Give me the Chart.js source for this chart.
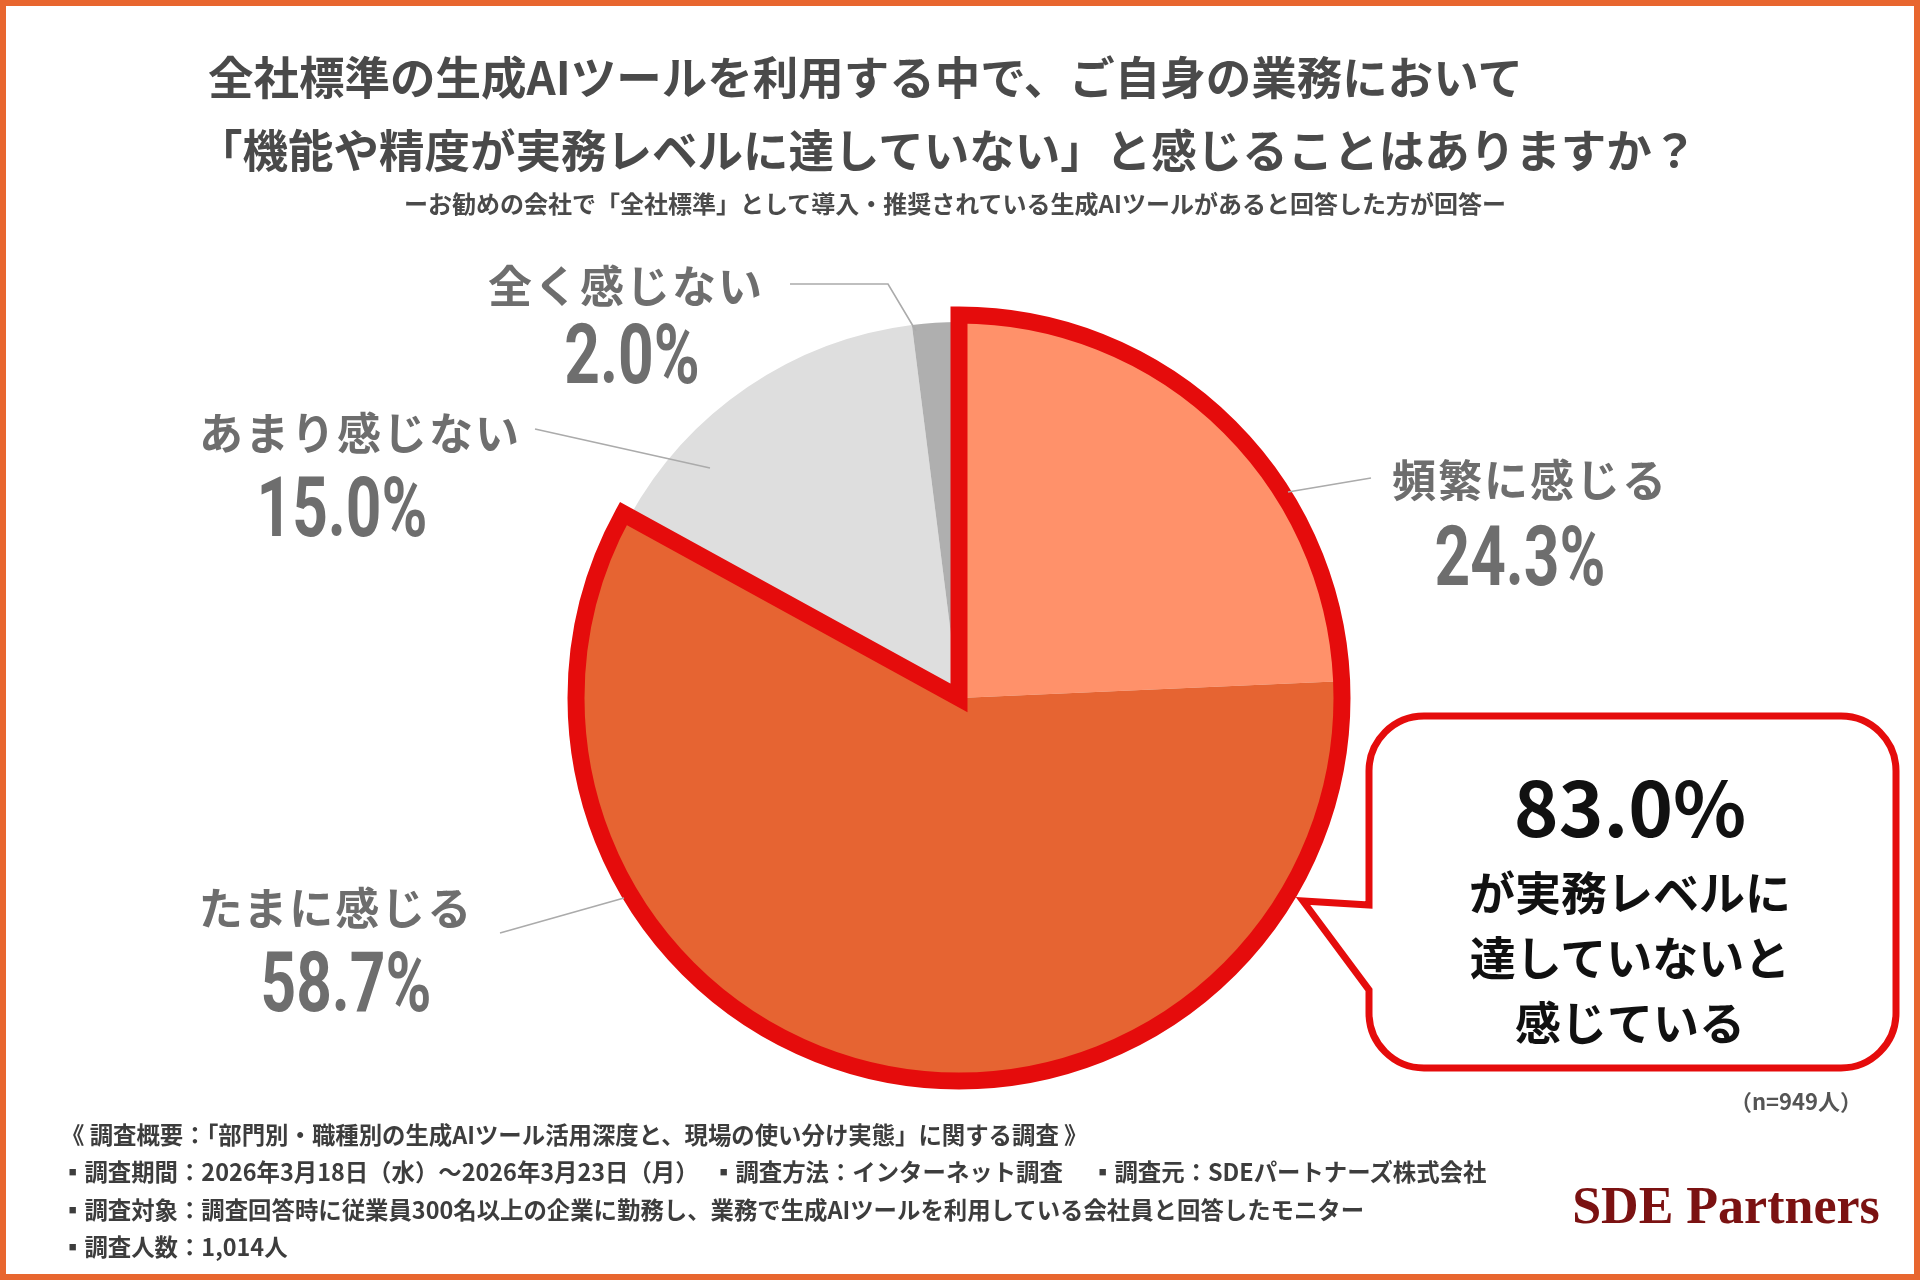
<!DOCTYPE html>
<html lang="ja">
<head>
<meta charset="utf-8">
<title>生成AIツールの実務レベル</title>
<script src="https://cdn.jsdelivr.net/npm/chart.js@4/dist/chart.umd.min.js"></script>
<style>
  html, body { margin: 0; padding: 0; }
  body {
    width: 1920px; height: 1280px; position: relative; overflow: hidden;
    background: #fff;
    font-family: "Noto Sans CJK JP", "Noto Sans", sans-serif;
  }
  #frame {
    position: absolute; left: 0; top: 0; width: 1920px; height: 1280px;
    box-sizing: border-box; border: 6px solid #E8662F; pointer-events: none;
  }
  #chart { position: absolute; left: 0; top: 0; }
  .abs { position: absolute; white-space: nowrap; line-height: 1; }
  .title { font-size: 45.5px; font-weight: 700; color: #4a4a4a; }
  .sub { font-size: 24px; font-weight: 700; color: #4a4a4a; transform: translate(-50%, -50%); }
  .lbl { font-size: 44px; font-weight: 700; color: #6e6e6e; letter-spacing: 2px; transform: translate(-50%, -50%); }
  .val {
    font-family: Roboto, "DejaVu Sans", sans-serif; font-size: 84px; font-weight: 700; color: #6e6e6e;
    transform: translate(-50%, -50%) scaleX(0.74);
  }
  .box-big { font-size: 76px; font-weight: 700; color: #111; transform: translate(-50%, -50%); }
  .box-txt { font-size: 46px; font-weight: 700; color: #111; transform: translate(-50%, -50%); }
  .foot { font-size: 23.4px; font-weight: 700; color: #3d3d3d; transform: translateY(-50%); }
  .logo {
    font-family: "Liberation Serif", "DejaVu Serif", serif; font-size: 52px; font-weight: 700;
    color: #7b1212; transform: translate(-50%, -50%);
  }
</style>
</head>
<body>
<canvas id="chart" width="1920" height="1280"></canvas>
<svg class="abs" style="left:0;top:0" width="1920" height="1280">
  <path id="callout" fill="#fff" stroke="#E50C0C" stroke-width="7" stroke-linejoin="miter"
    d="M1424 716 H1841 A55 55 0 0 1 1896 771 V1013 A55 55 0 0 1 1841 1068 H1424 A55 55 0 0 1 1369 1013 V990 L1303 901 L1369 905 V771 A55 55 0 0 1 1424 716 Z"/>
</svg>
<div id="overlay"></div>
<div id="frame"></div>

<script>
// data
const categories = ['頻繁に感じる', 'たまに感じる', 'あまり感じない', '全く感じない'];
const values = [24.3, 58.7, 15.0, 2.0];
const highlighted = [0, 1]; // slices inside the red outline
const sampleSize = 949;
const respondents = '1,014';

const titleLines = [
  '全社標準の生成AIツールを利用する中で、ご自身の業務において',
  '「機能や精度が実務レベルに達していない」と感じることはありますか？'
];
const subtitle = 'ーお勧めの会社で「全社標準」として導入・推奨されている生成AIツールがあると回答した方が回答ー';
const calloutLines = ['が実務レベルに', '達していないと', '感じている'];
const footLines = [
  '《 調査概要：「部門別・職種別の生成AIツール活用深度と、現場の使い分け実態」に関する調査 》',
  ['▪調査期間：2026年3月18日（水）～2026年3月23日（月）', '▪調査方法：インターネット調査', '▪調査元：SDEパートナーズ株式会社'],
  '▪調査対象：調査回答時に従業員300名以上の企業に勤務し、業務で生成AIツールを利用している会社員と回答したモニター',
  '▪調査人数：' + respondents + '人'
];

// styles / layout
const sliceColors = ['#FF916A', '#E66432', '#DEDEDE', '#AFAFAF'];
const labelPos = [
  { lx: 1530, ly: 478, vx: 1520, vy: 557 },
  { lx: 336, ly: 906, vx: 346, vy: 983 },
  { lx: 360, ly: 431, vx: 342, vy: 508 },
  { lx: 626, ly: 284, vx: 632, vy: 355 }
];
const leaders = [
  [[1371, 478], [1288, 492]],
  [[500, 933], [624, 898]],
  [[535, 429], [710, 468]],
  [[790, 284], [888, 284], [916, 331]]
];
const footPartX = [61, 712, 1091];

const overlay = document.getElementById('overlay');
function addText(cls, text, x, y) {
  const d = document.createElement('div');
  d.className = 'abs ' + cls;
  d.textContent = text;
  d.style.left = x + 'px';
  d.style.top = y + 'px';
  overlay.appendChild(d);
  return d;
}

// title block
addText('title', titleLines[0], 208, 76).style.transform = 'translateY(-50%)';
addText('title', titleLines[1], 197, 149).style.transform = 'translateY(-50%)';
addText('sub', subtitle, 955, 203);

// slice labels
categories.forEach((c, i) => {
  addText('lbl', c, labelPos[i].lx, labelPos[i].ly);
  addText('val', values[i].toFixed(1) + '%', labelPos[i].vx, labelPos[i].vy);
});

// callout
const highlightSum = highlighted.reduce((s, i) => s + values[i], 0);
addText('box-big', highlightSum.toFixed(1) + '%', 1630, 804);
calloutLines.forEach((t, i) => addText('box-txt', t, 1630, 890 + i * 65));

const n = addText('foot', '（n=' + sampleSize + '人）', 0, 1100);
n.style.left = ''; n.style.right = '58px'; n.style.color = '#555'; n.style.fontSize = '22px';

footLines.forEach((t, i) => {
  const y = 1135 + i * 37.3;
  if (Array.isArray(t)) t.forEach((part, j) => addText('foot', part, footPartX[j], y));
  else addText('foot', t, 61, y);
});
addText('logo', 'SDE Partners', 1726, 1206);

// red outline round the highlighted slices
const outlinePlugin = {
  id: 'outline',
  afterDatasetsDraw(chart) {
    const arcs = chart.getDatasetMeta(0).data;
    const a = arcs[highlighted[0]], b = arcs[highlighted[highlighted.length - 1]];
    const ctx = chart.ctx;
    const r = a.outerRadius + 7;
    ctx.save();
    ctx.beginPath();
    ctx.moveTo(a.x, a.y);
    ctx.arc(a.x, a.y, r, a.startAngle, b.endAngle);
    ctx.closePath();
    ctx.lineWidth = 17;
    ctx.lineJoin = 'miter';
    ctx.strokeStyle = '#E50C0C';
    ctx.stroke();
    ctx.restore();
  }
};

// leader lines
const leaderPlugin = {
  id: 'leaders',
  afterDraw(chart) {
    const ctx = chart.ctx;
    ctx.save();
    ctx.strokeStyle = '#ababab';
    ctx.lineWidth = 1.6;
    leaders.forEach(pts => {
      ctx.beginPath();
      pts.forEach((p, j) => j ? ctx.lineTo(p[0], p[1]) : ctx.moveTo(p[0], p[1]));
      ctx.stroke();
    });
    ctx.restore();
  }
};

const ctx = document.getElementById('chart').getContext('2d');
const chart = new Chart(ctx, {
  type: 'pie',
  data: {
    labels: categories,
    datasets: [{
      data: values,
      backgroundColor: sliceColors,
      borderWidth: 0
    }]
  },
  options: {
    responsive: false,
    animation: false,
    rotation: 0,
    layout: { padding: { left: 583, right: 585, top: 322, bottom: 206 } },
    plugins: {
      legend: { display: false },
      tooltip: { enabled: false }
    }
  },
  plugins: [outlinePlugin, leaderPlugin]
});
</script>
</body>
</html>
